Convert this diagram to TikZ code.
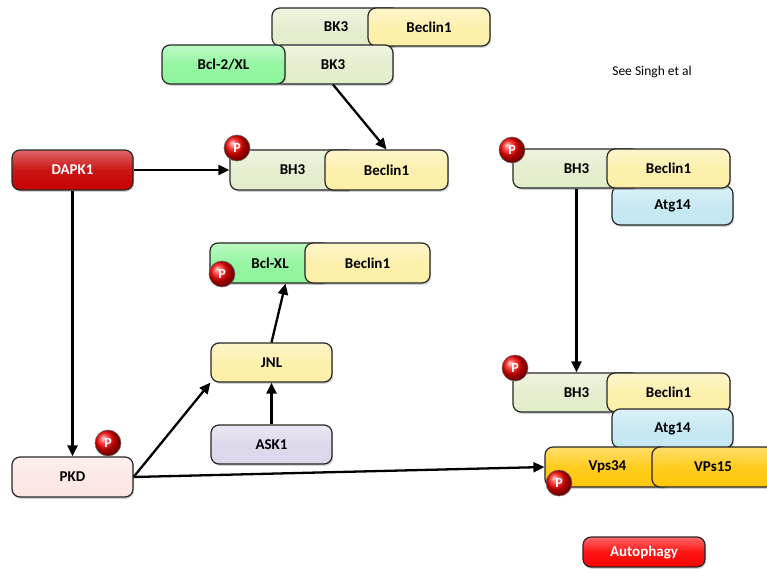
\documentclass[tikz,border=0pt]{standalone}
\usepackage{fontspec}
\setmainfont{Carlito}
\usetikzlibrary{arrows.meta,shadows}
\definecolor{cBH}{HTML}{E2EDCB}
\definecolor{cBec}{HTML}{FCEFA6}
\definecolor{cBcl}{HTML}{8DF59A}
\definecolor{cDapk}{HTML}{C70000}
\definecolor{cPkd}{HTML}{FCE6E2}
\definecolor{cAsk}{HTML}{DDD5EA}
\definecolor{cAtg}{HTML}{C3E7F2}
\definecolor{cVps}{HTML}{FFC80A}
\definecolor{cAuto}{HTML}{FF0000}
\tikzset{
  pbox/.style={draw=black!85, line width=1.2pt, rounded corners=8pt, inner sep=0pt,
    font=\bfseries\fontsize{15}{17}\selectfont,
    top color=#1!60!white, bottom color=#1, middle color=#1!92!white,
    drop shadow={opacity=0.35, shadow xshift=1.2pt, shadow yshift=-1.8pt}},
  pball/.style={circle, draw=black!60, line width=0.6pt, ball color=red, minimum size=26pt, inner sep=0pt,
    text=white, font=\bfseries\fontsize{14}{16}\selectfont},
  arr/.style={line width=2.3pt, -{Triangle[length=11pt,width=10pt]}}
}
\newcommand{\pb}[7]{\node[pbox=#6, minimum width={(#4-#2)*1pt}, minimum height={(#5-#3)*1pt}] (#1) at ({(#2+#4)/2},{(#3+#5)/2}) {#7};}
\begin{document}
\begin{tikzpicture}[x=1pt,y=-1pt]
\useasboundingbox (0,0) rectangle (767,573);
% top complexes
\pb{bkA}{272}{8}{400}{46}{cBH}{BK3}
\pb{becA}{368}{8}{490}{46}{cBec}{Beclin1}
\pb{bkB}{273}{45}{393}{84}{cBH}{BK3}
\pb{bcl}{162}{45}{285}{84}{cBcl}{Bcl-2/XL}
% middle BH3/Beclin1
\pb{bhM}{230}{150}{355}{190}{cBH}{BH3}
\pb{becM}{325}{150}{448}{190}{cBec}{Beclin1}
\node[pball] (pM) at (237,148) {P};
% DAPK1
\pb{dapk}{12}{150}{133}{190}{cDapk}{\textcolor{white}{DAPK1}}
% Bcl-XL/Beclin1
\pb{bxl}{210}{243}{330}{283}{cBcl}{Bcl-XL}
\pb{becX}{305}{243}{430}{283}{cBec}{Beclin1}
\node[pball] (pX) at (222,274) {P};
% JNL, ASK1
\pb{jnl}{211}{343}{332}{382}{cBec}{JNL}
\pb{ask}{211}{425}{332}{464}{cAsk}{ASK1}
% PKD
\pb{pkd}{12}{457}{133}{497}{cPkd}{PKD}
\node[pball] (pP) at (108,443) {P};
% right top
\pb{atgR1}{612}{186}{733}{225}{cAtg}{Atg14}
\pb{bhR1}{513}{149}{640}{188}{cBH}{BH3}
\pb{becR1}{607}{149}{730}{188}{cBec}{Beclin1}
\node[pball] (pR1) at (512,150) {P};
% right mid
\pb{bhR2}{513}{373}{640}{412}{cBH}{BH3}
\pb{becR2}{607}{373}{730}{412}{cBec}{Beclin1}
\pb{atgR2}{612}{409}{733}{448}{cAtg}{Atg14}
\pb{vps}{545}{447}{670}{487}{cVps}{Vps34}
\pb{vps15}{652}{447}{774}{487}{cVps}{VPs15}
\node[pball] (pR2) at (515,368) {P};
\node[pball] (pV) at (559,483) {P};
% Autophagy
\pb{auto}{583}{537}{705}{567}{cAuto}{\textcolor{white}{Autophagy}}
% note
\node[font=\fontsize{13.5}{15}\selectfont] (note) at (652,72) {See Singh et al};
% arrows
\draw[arr] (dapk.east) -- (bhM.west);
\draw[arr] (bkB.south) -- (becM.north);
\draw[arr] (dapk.south) -- (pkd.north);
\draw[arr] (bhR1.south) -- (bhR2.north);
\draw[arr] (ask.north) -- (jnl.south);
\draw[arr] (jnl.north) -- (bxl.-53);
\draw[arr] (pkd.east) -- (jnl.south west);
\draw[arr] (pkd.east) -- (vps.west);
\end{tikzpicture}
\end{document}
